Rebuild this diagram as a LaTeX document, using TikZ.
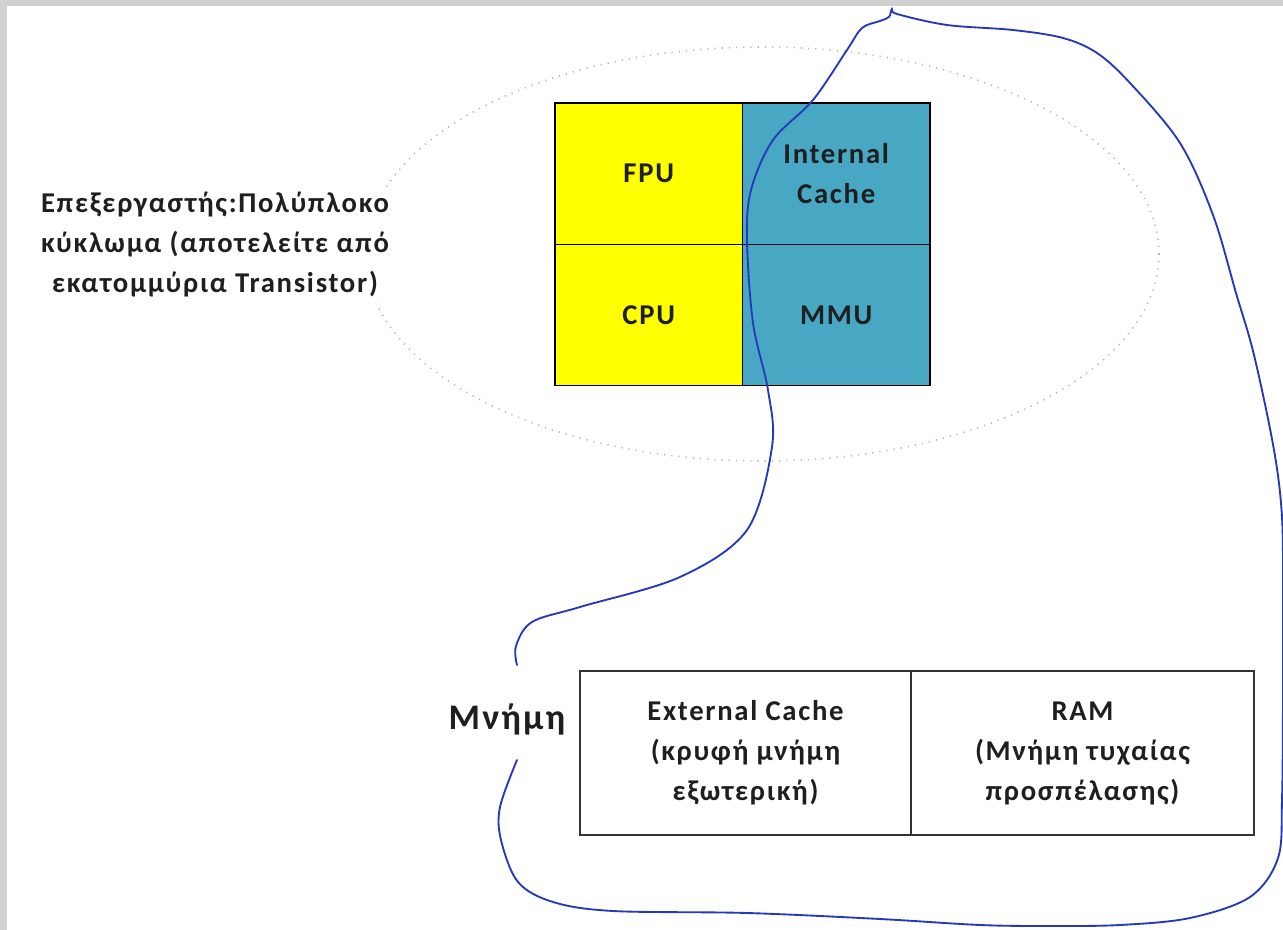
\documentclass[tikz,border=0pt]{standalone}
\usepackage{fontspec}
\setmainfont{Carlito}
\usepackage{xcolor}
\usepackage{tikz}
\usetikzlibrary{positioning}
\definecolor{cellyellow}{RGB}{255,255,0}
\definecolor{cellaqua}{RGB}{72,168,196}
\definecolor{curveblue}{RGB}{38,58,185}
\definecolor{framegray}{RGB}{208,208,208}
\newfontfamily\diagfont[LetterSpace=6]{Carlito}
\tikzset{
    tnode/.style = {align=center, inner sep=0pt, outer sep=0pt, text centered, text=black!88, font=\diagfont\fontsize{21.5}{30}\selectfont\bfseries},
    yellow_cell/.style = {tnode, rectangle, draw=black, fill=cellyellow, minimum width=140.6pt, minimum height=106pt, line width=1.1pt},
    aqua_cell/.style = {yellow_cell, fill=cellaqua},
    mem_cell/.style = {tnode, rectangle, draw=black!80, fill=white, minimum height=123pt, line width=1.1pt},
    label_node/.style = {tnode, fill=white, inner sep=4pt},
    mem_label/.style = {tnode, font=\diagfont\fontsize{27}{32}\selectfont\bfseries}
}

\begin{document}
\begin{tikzpicture}
    [x=0.75pt, y=-0.75pt]
    \useasboundingbox (0,0) rectangle (1283,930);
    \fill[white] (0,0) rectangle (1283,930);
    \fill[framegray] (0,0) rectangle (1283,6);
    \fill[framegray] (0,0) rectangle (7,930);

    % processor
    \draw[gray!55, line width=1.2pt, dash pattern=on 0.9pt off 4.5pt] (762,254) ellipse [x radius=397, y radius=207];
    \node[label_node] (cpu_label) at (215,245) {Επεξεργαστής:Πολύπλοκο\\κύκλωμα (αποτελείτε από\\εκατομμύρια Transistor)};

    \node[yellow_cell, anchor=north west] (fpu) at (555,103) {FPU};
    \node[aqua_cell, right=0pt of fpu] (icache) {Internal\\Cache};
    \node[yellow_cell, below=0pt of fpu] (cpu) {CPU};
    \node[aqua_cell, below=0pt of icache] (mmu) {MMU};

    % memory
    \node[mem_cell, minimum width=248.25pt, anchor=north west] (ecache) at (580,671) {External Cache\\(κρυφή μνήμη\\εξωτερική)};
    \node[mem_cell, minimum width=257.25pt, right=0pt of ecache] (ram) {RAM\\(Μνήμη τυχαίας\\προσπέλασης)};
    \node[mem_label] (mem) at (507,719) {Μνήμη};

    % enclosing curve
    \draw[curveblue, line width=1.4pt, line cap=round] plot[smooth, tension=0.55] coordinates {
        (517,665) (516,646) (532,622) (580,607) (680,577) (747,530) (772,447)
        (768,390) (753,323) (747,240) (751,190) (773,140) (813,100) (847,50)
        (862,28) (880,21) (889,17) (892,9) (897,14) (947,25) (1013,30)
        (1063,38) (1097,53) (1130,83) (1180,143) (1213,215) (1236,293)
        (1254,355) (1274,450) (1282,517) (1283,600) (1283,700) (1282,800)
        (1278,858) (1250,897) (1190,918) (1120,925) (1050,926) (980,925)
        (880,919) (747,913) (613,911) (553,902) (518,882) (501,840)
        (500,807) (517,760)};
\end{tikzpicture}
\end{document}
